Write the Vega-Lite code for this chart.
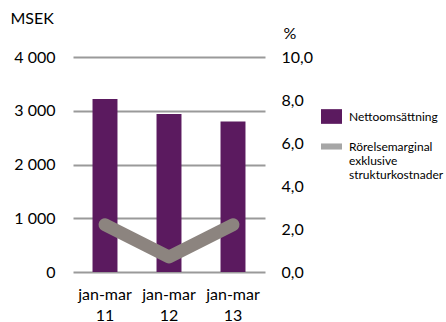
{
  "$schema": "https://vega.github.io/schema/vega-lite/v6.json",
  "width": 192,
  "height": 215,
  "autosize": {"type": "none"},
  "padding": {"left": 73, "top": 57, "right": 181, "bottom": 50},
  "background": "white",
  "config": {
    "view": {"stroke": null},
    "font": "Lato",
    "axis": {"labelFont": "Lato", "titleFont": "Lato", "labelColor": "#000", "titleColor": "#000"},
    "legend": {"labelFont": "Lato", "labelColor": "#000"}
  },
  "data": {
    "values": [
      {"period": "jan-mar 11", "sales": 3220, "margin": 2.2, "s": "Nettoomsättning", "m": "Rörelsemarginal exklusive strukturkostnader"},
      {"period": "jan-mar 12", "sales": 2940, "margin": 0.7, "s": "Nettoomsättning", "m": "Rörelsemarginal exklusive strukturkostnader"},
      {"period": "jan-mar 13", "sales": 2800, "margin": 2.2, "s": "Nettoomsättning", "m": "Rörelsemarginal exklusive strukturkostnader"}
    ]
  },
  "encoding": {
    "x": {
      "field": "period",
      "type": "nominal",
      "sort": null,
      "scale": {"paddingInner": 0.61, "paddingOuter": 0.305},
      "axis": {
        "title": null,
        "domain": false,
        "ticks": false,
        "labelAngle": 0,
        "labelFontSize": 16,
        "labelPadding": 14,
        "labelBaseline": "top",
        "labelLineHeight": 21,
        "labelExpr": "split(datum.label, ' ')"
      }
    }
  },
  "layer": [
    {
      "mark": {"type": "bar"},
      "encoding": {
        "y": {
          "field": "sales",
          "type": "quantitative",
          "scale": {"domain": [0, 4000], "nice": false},
          "axis": {
            "orient": "left",
            "values": [0, 1000, 2000, 3000, 4000],
            "title": "MSEK",
            "titleAngle": 0,
            "titleAlign": "left",
            "titleBaseline": "middle",
            "titleX": -63,
            "titleY": -39,
            "titleFontSize": 16,
            "titleFontWeight": "normal",
            "labelFontSize": 16,
            "labelPadding": 18,
            "labelExpr": "replace(format(datum.value, ',d'), ',', ' ')",
            "domain": false,
            "ticks": false,
            "grid": true,
            "gridColor": "#9a9a9a",
            "gridWidth": 2
          }
        },
        "fill": {
          "field": "s",
          "type": "nominal",
          "scale": {"range": ["#5b1a5f"]},
          "legend": {
            "title": null,
            "orient": "none",
            "legendX": 248,
            "legendY": 49,
            "padding": 0,
            "symbolType": "M-1,-0.7H1V0.7H-1Z",
            "symbolSize": 441,
            "symbolStrokeWidth": 0,
            "labelFontSize": 12,
            "labelOffset": 7
          }
        }
      }
    },
    {
      "mark": {"type": "line", "strokeWidth": 13, "strokeCap": "round", "strokeJoin": "round"},
      "encoding": {
        "y": {
          "field": "margin",
          "type": "quantitative",
          "scale": {"domain": [0, 10], "nice": false},
          "axis": {
            "orient": "right",
            "values": [0, 2, 4, 6, 8, 10],
            "title": "%",
            "titleAngle": 0,
            "titleAlign": "left",
            "titleBaseline": "middle",
            "titleX": 18,
            "titleY": -24,
            "titleFontSize": 16,
            "titleFontWeight": "normal",
            "labelFontSize": 16,
            "labelPadding": 16,
            "labelExpr": "replace(format(datum.value, '.1f'), '.', ',')",
            "domain": false,
            "ticks": false,
            "grid": false
          }
        },
        "stroke": {
          "field": "m",
          "type": "nominal",
          "scale": {"range": ["#8c847f"]},
          "legend": {
            "title": null,
            "orient": "none",
            "legendX": 248,
            "legendY": 79,
            "padding": 0,
            "symbolType": "M-1,-0.29H1V0.29H-1Z",
            "symbolSize": 441,
            "labelFontSize": 12,
            "labelOffset": 7,
            "labelLineHeight": 15,
            "labelExpr": "split(datum.label, ' ')",
            "encode": {"symbols": {"update": {"fill": {"value": "#a6a6a6"}, "fillOpacity": {"value": 1}, "strokeWidth": {"value": 0}}}}
          }
        }
      }
    }
  ],
  "resolve": {"scale": {"y": "independent"}}
}
